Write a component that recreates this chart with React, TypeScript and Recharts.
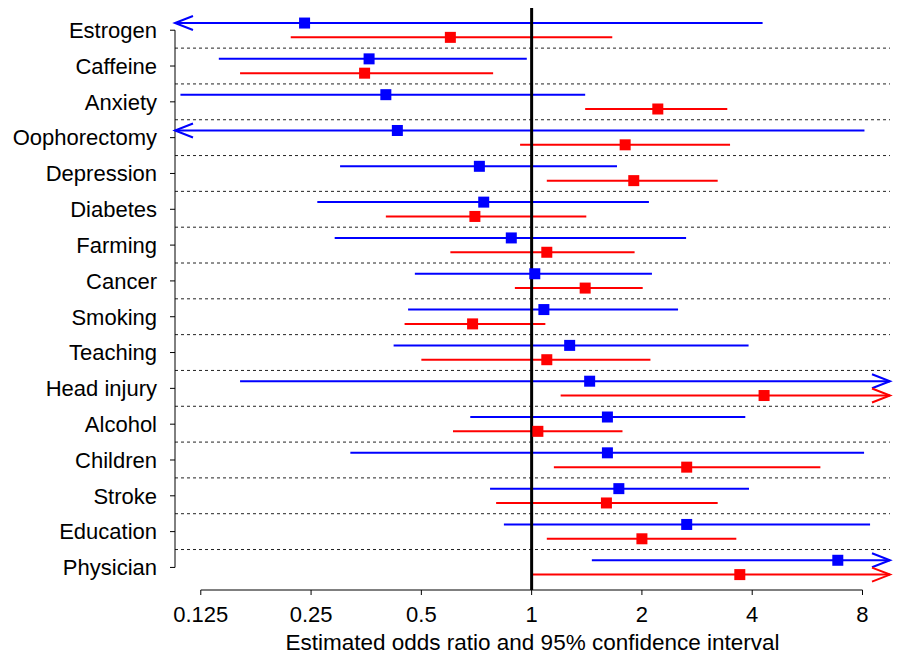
import React from 'react';
import { ScatterChart, Scatter, XAxis, YAxis, ErrorBar, ReferenceLine } from 'recharts';

const categories = [
  'Estrogen', 'Caffeine', 'Anxiety', 'Oophorectomy', 'Depression', 'Diabetes',
  'Farming', 'Cancer', 'Smoking', 'Teaching', 'Head injury', 'Alcohol',
  'Children', 'Stroke', 'Education', 'Physician',
];

const xTicks = [0.125, 0.25, 0.5, 1, 2, 4, 8];

// blue estimates (upper row of each pair); null = interval runs off the axis
const blueOR = [0.24, 0.36, 0.4, 0.43, 0.72, 0.74, 0.88, 1.02, 1.08, 1.27, 1.44, 1.61, 1.61, 1.73, 2.65, 6.85];
const blueLo = [null, 0.14, 0.11, null, 0.3, 0.26, 0.29, 0.48, 0.46, 0.42, 0.16, 0.68, 0.32, 0.77, 0.84, 1.46];
const blueHi = [4.27, 0.97, 1.4, 8.1, 1.71, 2.09, 2.64, 2.13, 2.51, 3.91, null, 3.83, 8.08, 3.92, 8.39, null];

// red estimates (lower row of each pair)
const redOR = [0.6, 0.35, 2.21, 1.8, 1.9, 0.7, 1.1, 1.4, 0.69, 1.1, 4.31, 1.04, 2.65, 1.6, 2.0, 3.7];
const redLo = [0.22, 0.16, 1.4, 0.93, 1.1, 0.4, 0.6, 0.9, 0.45, 0.5, 1.2, 0.61, 1.15, 0.8, 1.1, 1.0];
const redHi = [1.66, 0.785, 3.42, 3.48, 3.22, 1.41, 1.91, 2.01, 1.09, 2.11, null, 1.77, 6.14, 3.22, 3.62, null];

const X_MIN = 0.1063;
const X_MAX = 9.51;
const Y_MIN = -0.62;
const Y_MAX = 15.63;
const SHIFT = 0.2;

const BLUE = '#0000ff';
const RED = '#ff0000';
const FONT = '"Liberation Sans", Arial, Helvetica, sans-serif';

const buildPoints = (est: number[], lo: (number | null)[], hi: (number | null)[], shift: number) =>
  est.map((v, i) => {
    const low = lo[i] ?? X_MIN;
    const high = hi[i] ?? X_MAX;
    return { x: v, y: i + shift, err: [v - low, high - v], name: categories[i] };
  });

const buildArrows = (lo: (number | null)[], hi: (number | null)[], shift: number, color: string) => {
  const out: any[] = [];
  lo.forEach((v, i) => {
    if (v === null) out.push({ x: X_MIN, y: i + shift, dir: -1, color });
  });
  hi.forEach((v, i) => {
    if (v === null) out.push({ x: X_MAX, y: i + shift, dir: 1, color });
  });
  return out;
};

const bluePoints = buildPoints(blueOR, blueLo, blueHi, -SHIFT);
const redPoints = buildPoints(redOR, redLo, redHi, SHIFT);
const arrows = [...buildArrows(blueLo, blueHi, -SHIFT, BLUE), ...buildArrows(redLo, redHi, SHIFT, RED)];

const square = (color: string) => (props: any) => (
  <rect x={props.cx - 5.5} y={props.cy - 5.5} width={11} height={11} fill={color} />
);

const Arrow = (props: any) => {
  const { cx, cy, payload } = props;
  const d = payload.dir;
  return (
    <polyline
      points={`${cx - d * 18},${cy - 7} ${cx},${cy} ${cx - d * 18},${cy + 7}`}
      fill="none"
      stroke={payload.color}
      strokeWidth={2}
    />
  );
};

const App: React.FC = () => {
  return (
    <ScatterChart
      width={903}
      height={647}
      margin={{ top: 0, right: 21, left: 0, bottom: 0 }}
      style={{ fontFamily: FONT }}
    >
      <XAxis
        type="number"
        dataKey="x"
        scale="log"
        domain={[X_MIN, X_MAX]}
        ticks={xTicks}
        interval={0}
        height={65}
        tickSize={5}
        tickMargin={11}
        axisLine={false}
        tickLine={{ stroke: '#000' }}
        tick={{ fill: '#000', fontSize: 22 }}
        label={{
          value: 'Estimated odds ratio and 95% confidence interval',
          position: 'insideBottom',
          offset: 5,
          fill: '#000',
          fontSize: 22.5,
        }}
      />
      <YAxis
        type="number"
        dataKey="y"
        domain={[Y_MIN, Y_MAX]}
        reversed
        allowDataOverflow
        ticks={categories.map((_, i) => i)}
        tickFormatter={(i: number) => categories[i]}
        interval={0}
        width={167}
        tickSize={5}
        tickMargin={13}
        axisLine={false}
        tickLine={{ stroke: '#000' }}
        tick={{ fill: '#000', fontSize: 22 }}
      />
      {categories.slice(1).map((_, i) => (
        <ReferenceLine key={`sep-${i}`} y={i + 0.5} stroke="#222" strokeDasharray="3 3" />
      ))}
      <ReferenceLine
        segment={[{ x: X_MIN, y: 0 }, { x: X_MIN, y: categories.length - 1 }]}
        stroke="#000"
        ifOverflow="visible"
      />
      <ReferenceLine
        segment={[{ x: xTicks[0], y: Y_MAX }, { x: xTicks[xTicks.length - 1], y: Y_MAX }]}
        stroke="#000"
        ifOverflow="visible"
      />
      <Scatter data={bluePoints} shape={square(BLUE)} isAnimationActive={false}>
        <ErrorBar dataKey="err" direction="x" width={0} stroke={BLUE} strokeWidth={2} />
      </Scatter>
      <Scatter data={redPoints} shape={square(RED)} isAnimationActive={false}>
        <ErrorBar dataKey="err" direction="x" width={0} stroke={RED} strokeWidth={2} />
      </Scatter>
      <Scatter data={arrows} shape={Arrow} isAnimationActive={false} />
      <ReferenceLine x={1} stroke="#000" strokeWidth={3} />
    </ScatterChart>
  );
};

export default App;
